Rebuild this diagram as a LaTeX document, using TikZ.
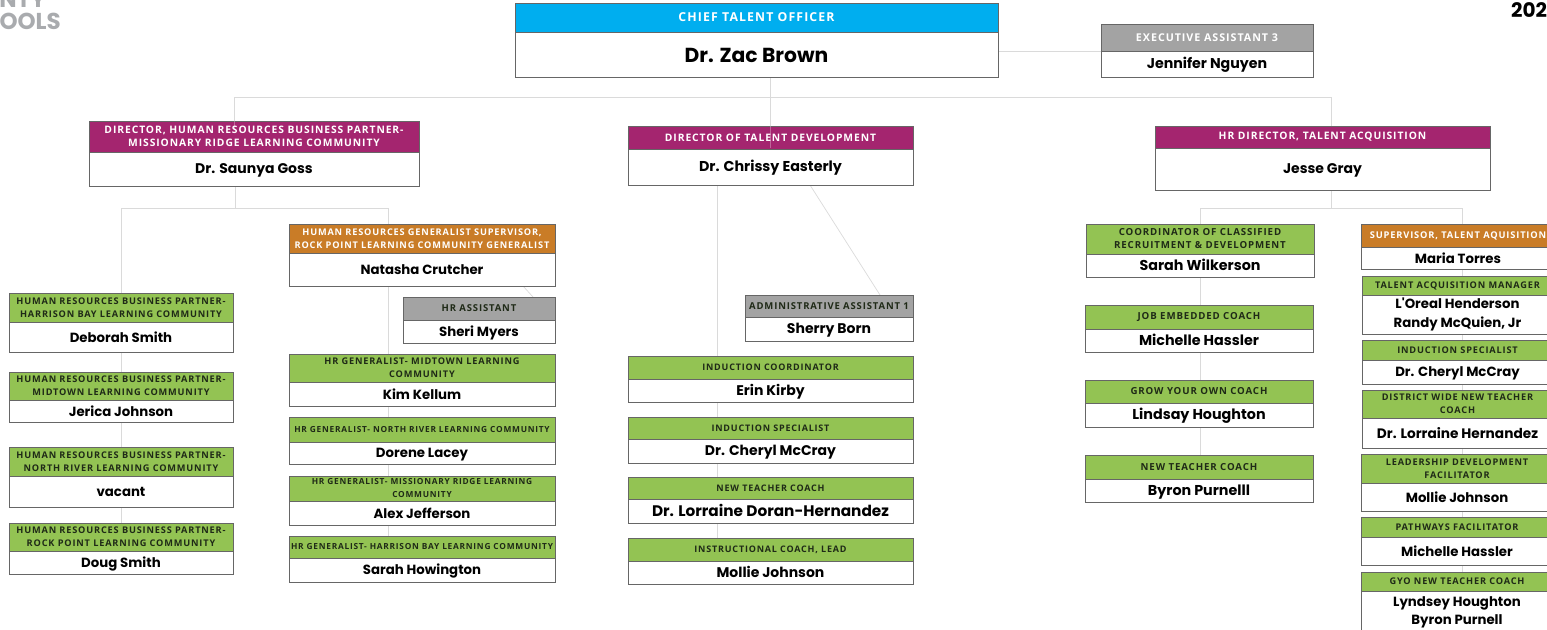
\documentclass[tikz,border=0pt]{standalone}
\usepackage{fontspec}
\setmainfont{Poppins}
\newfontfamily\hdrf[LetterSpace=9]{Open Sans}
\newfontfamily\namef{Poppins}
\usetikzlibrary{backgrounds}
\definecolor{cCyan}{HTML}{00AEEF}
\definecolor{cPurple}{HTML}{A4256F}
\definecolor{cOrange}{HTML}{C97C27}
\definecolor{cGreen}{HTML}{93C353}
\definecolor{cGray}{HTML}{A3A3A3}
\definecolor{cLine}{HTML}{DADADA}
\definecolor{cEdge}{HTML}{666666}
\definecolor{cDarkTxt}{HTML}{1F2A17}
\definecolor{cLogo}{HTML}{A9ABAE}
\newcommand{\nsize}[1]{\fontsize{#1}{18.5}\selectfont}
\tikzset{
  x=1pt,y=-1pt,
  boxpart/.style={draw=cEdge,line width=1pt,inner sep=0pt,outer sep=0pt,align=center,anchor=center},
  fs/.style={font=\hdrf\bfseries\fontsize{#1}{13}\selectfont},
  hdr/.style={boxpart,fs=10.3},
  nm/.style={boxpart,fill=white,text=black,font=\namef\bfseries\nsize{13.3},
    execute at begin node={\rule{0pt}{13.5pt}},
    execute at end node={\rule[-3.5pt]{0pt}{0pt}}},
  hcyan/.style={fill=cCyan,text=white,fs=12.3},
  hpurple/.style={fill=cPurple,text=white},
  horange/.style={fill=cOrange,text=white,fs=9.2},
  hgreen/.style={fill=cGreen,text=cDarkTxt,fs=9.2},
  hgray/.style={fill=cGray,text=white,fs=10.7},
  hgrayd/.style={fill=cGray,text=cDarkTxt,fs=9.5},
  conn/.style={draw=cLine,line width=1pt},
  thru/.style={draw=white,line width=.8pt,opacity=.3},
  logotxt/.style={inner sep=0pt,text=cLogo,font=\namef\bfseries\fontsize{23}{23}\selectfont},
}
% id x0 x1 y0 ysplit y1 headerstyle label name
\newcommand{\card}[9]{%
  \node[hdr,#7,minimum width={(#3-#2)*1pt},minimum height={(#5-#4)*1pt}] (#1-h) at ({(#2+#3)/2},{(#4+#5)/2}) {#8};
  \node[nm,minimum width={(#3-#2)*1pt},minimum height={(#6-#5)*1pt}] (#1) at ({(#2+#3)/2},{(#5+#6)/2}) {#9};
}
\begin{document}
\begin{tikzpicture}
\useasboundingbox (0,0) rectangle (1547,629);
\clip (0,0) rectangle (1547,629);
\node[logotxt,anchor=base east] (logoa) at (46,8) {NTY};
\node[logotxt,anchor=base east] (logob) at (61,29) {OOLS};
\node[inner sep=0pt,anchor=base west,text=black,font=\namef\bfseries\fontsize{20}{20}\selectfont] (year) at (1511,17) {202};

\card{cto}{515}{998}{3}{32}{77}{hcyan}{CHIEF TALENT OFFICER}{\rule{0pt}{20pt}\nsize{20.3}Dr. Zac Brown}
\card{ea}{1101}{1313}{24}{51}{77}{hgray}{EXECUTIVE ASSISTANT 3}{\nsize{14.2}Jennifer Nguyen}
\card{d1}{89}{419}{121}{152}{186}{hpurple}{DIRECTOR, HUMAN RESOURCES BUSINESS PARTNER-\\MISSIONARY RIDGE LEARNING COMMUNITY}{\nsize{14}Dr. Saunya Goss}
\card{d2}{628}{913}{126}{149}{185}{hpurple}{DIRECTOR OF TALENT DEVELOPMENT}{\nsize{14.3}Dr. Chrissy Easterly}
\card{d3}{1155}{1490}{126}{148}{190}{hpurple}{HR DIRECTOR, TALENT ACQUISITION}{\nsize{14}Jesse Gray}

\card{l1}{9}{233}{293}{322}{352}{hgreen}{HUMAN RESOURCES BUSINESS PARTNER-\\HARRISON BAY LEARNING COMMUNITY}{Deborah Smith}
\card{l2}{9}{233}{372}{400}{422}{hgreen}{HUMAN RESOURCES BUSINESS PARTNER-\\MIDTOWN LEARNING COMMUNITY}{Jerica Johnson}
\card{l3}{9}{233}{447}{476}{507}{hgreen}{HUMAN RESOURCES BUSINESS PARTNER-\\NORTH RIVER LEARNING COMMUNITY}{vacant}
\card{l4}{9}{233}{523}{551}{574}{hgreen}{HUMAN RESOURCES BUSINESS PARTNER-\\ROCK POINT LEARNING COMMUNITY}{Doug Smith}

\card{na}{289}{555}{224}{253}{286}{horange}{HUMAN RESOURCES GENERALIST SUPERVISOR,\\ROCK POINT LEARNING COMMUNITY GENERALIST}{Natasha Crutcher}
\card{ha}{403}{555}{297}{320}{343}{hgrayd}{HR ASSISTANT}{Sheri Myers}
\card{g1}{289}{555}{354}{382}{406}{hgreen}{HR GENERALIST- MIDTOWN LEARNING\\COMMUNITY}{Kim Kellum}
\card{g2}{289}{555}{417}{442}{464}{hgreen,fs=8.35}{HR GENERALIST- NORTH RIVER LEARNING COMMUNITY}{Dorene Lacey}
\card{g3}{289}{555}{476}{501}{525}{hgreen,fs=8.35}{HR GENERALIST- MISSIONARY RIDGE LEARNING\\COMMUNITY}{Alex Jefferson}
\card{g4}{289}{555}{536}{558}{582}{hgreen,fs=8.35}{HR GENERALIST- HARRISON BAY LEARNING COMMUNITY}{Sarah Howington}

\card{sb}{745}{913}{295}{317}{341}{hgrayd}{ADMINISTRATIVE ASSISTANT 1}{\nsize{14}Sherry Born}
\card{m1}{628}{913}{356}{379}{402}{hgreen,fs=9}{INDUCTION COORDINATOR}{\nsize{14}Erin Kirby}
\card{m2}{628}{913}{417}{439}{463}{hgreen,fs=9}{INDUCTION SPECIALIST}{\nsize{14}Dr. Cheryl McCray}
\card{m3}{628}{913}{477}{499}{523}{hgreen,fs=9}{NEW TEACHER COACH}{\nsize{15.3}Dr. Lorraine Doran-Hernandez}
\card{m4}{628}{913}{538}{561}{584}{hgreen,fs=9}{INSTRUCTIONAL COACH, LEAD}{\nsize{14}Mollie Johnson}

\card{r1}{1086}{1314}{224}{254}{277}{hgreen,fs=9.7}{COORDINATOR OF CLASSIFIED\\RECRUITMENT \& DEVELOPMENT}{\nsize{14.3}Sarah Wilkerson}
\card{r2}{1085}{1313}{305}{329}{352}{hgreen,fs=9.7}{JOB EMBEDDED COACH}{\nsize{14.3}Michelle Hassler}
\card{r3}{1085}{1313}{380}{403}{427}{hgreen,fs=9.7}{GROW YOUR OWN COACH}{\nsize{14.3}Lindsay Houghton}
\card{r4}{1085}{1313}{455}{479}{502}{hgreen,fs=9.7}{NEW TEACHER COACH}{\nsize{14.3}Byron Purnelll}

\card{t1}{1361}{1555}{224}{247}{269}{horange,fs=9.3}{SUPERVISOR, TALENT AQUISITION}{Maria Torres}
\card{t2}{1362}{1553}{276}{295}{334}{hgreen}{TALENT ACQUISITION MANAGER}{L'Oreal Henderson\\Randy McQuien, Jr}
\card{t3}{1362}{1553}{340}{360}{384}{hgreen}{INDUCTION SPECIALIST}{Dr. Cheryl McCray}
\card{t4}{1362}{1553}{390}{418}{448}{hgreen}{DISTRICT WIDE NEW TEACHER\\COACH}{\nsize{13.7}Dr. Lorraine Hernandez}
\card{t5}{1361}{1553}{454}{483}{511}{hgreen}{LEADERSHIP DEVELOPMENT\\FACILITATOR}{Mollie Johnson}
\card{t6}{1361}{1553}{517}{537}{565}{hgreen}{PATHWAYS FACILITATOR}{Michelle Hassler}
\card{t7}{1361}{1553}{572}{591}{634}{hgreen}{GYO NEW TEACHER COACH}{Lyndsey Houghton\\Byron Purnell}

\coordinate (b0l) at (234,97);
\coordinate (b0m) at (770,97);
\coordinate (b0r) at (1331,97);
\coordinate (b1j) at (235,208);
\coordinate (b1l) at (121,208);
\coordinate (b1r) at (388,208);
\coordinate (b2j) at (1331,208);
\coordinate (b2l) at (1200,208);
\coordinate (b2r) at (1462,208);
\coordinate (dgs) at (810,185);
\coordinate (dge) at (880,295);
\coordinate (nas) at (523,286);
\coordinate (nae) at (533,297);
\coordinate (col2) at (717,300);
\begin{scope}[on background layer]
  \draw[conn] (b0m |- cto.south) -- (b0m);
  \draw[conn] (b0l) -- (b0r);
  \draw[conn] (cto-h.south east |- ea-h.south) -- (ea-h.south west);
  \draw[conn] (b0l) -- (b0l |- d1-h.north);
  \draw[conn] (b0m) -- (b0m |- d2-h.north);
  \draw[conn] (b0r) -- (b0r |- d3-h.north);
  \draw[conn] (b1j |- d1.south) -- (b1j);
  \draw[conn] (b1l) -- (b1r);
  \draw[conn] (b1l) -- (b1l |- l4-h.north);
  \draw[conn] (b1r) -- (b1r |- g4-h.north);
  \draw[conn] (b2j |- d3.south) -- (b2j);
  \draw[conn] (b2l) -- (b2r);
  \draw[conn] (b2l) -- (b2l |- r4-h.north);
  \draw[conn] (b2r) -- (b2r |- t7-h.north);
  \draw[conn] (col2 |- d2.south) -- (col2 |- m4-h.north);
  \draw[conn,line width=.7pt] (dgs) -- (dge);
  \draw[conn,line width=.7pt] (nas) -- (nae);
\end{scope}
\draw[thru] (b0l |- d1-h.north) -- ++(0,9);
\draw[thru] (b0m |- d2-h.north) -- ++(0,22);
\end{tikzpicture}
\end{document}
